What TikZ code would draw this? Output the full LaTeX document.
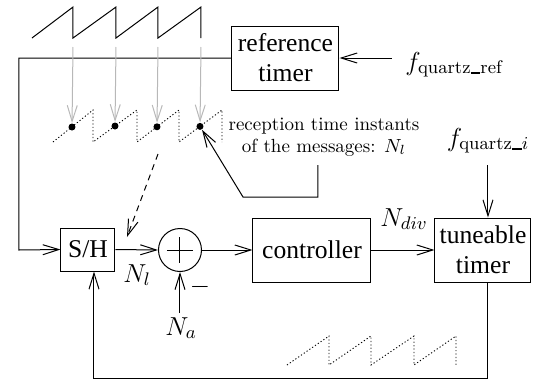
\RequirePackage{fix-cm}
\documentclass[tikz,border=0pt]{standalone}
\usepackage{fontspec}
\newfontfamily\tms{Liberation Serif}
\usetikzlibrary{arrows.meta,calc}
\newcommand{\usc}{\rule[-0.02em]{0.38em}{0.09em}}
\begin{document}
\begin{tikzpicture}[x=0.5pt,y=-0.5pt,
  line width=0.5pt,
  arr/.style={-{Straight Barb[length=8pt,width=5pt]}},
  garr/.style={arr, draw=black!28},
  box/.style={draw, inner sep=0pt, font=\tms\fontsize{12.8}{15}\selectfont, align=center},
  lab/.style={inner sep=0pt, font=\fontsize{13}{15}\selectfont},
  dotnode/.style={circle, fill, inner sep=0pt, minimum size=3.5pt},
  dotline/.style={line width=0.45pt, dash pattern=on 0.6pt off 1.1pt},
  ]
\useasboundingbox (0,0) rectangle (543,381);

% boxes
\node[box, minimum width=53.5pt, minimum height=32pt] (ref) at (285.5,58) {reference\\timer};
\node[box, minimum width=27pt, minimum height=21.5pt] (sh) at (88,249.5) {S/H};
\node[draw, circle, minimum size=21.5pt, inner sep=0pt] (sum) at (180,250) {};
\draw (sum.center) ++(-13,0) -- ++(26,0);
\draw (sum.center) ++(0,-13) -- ++(0,26);
\node[box, minimum width=59pt, minimum height=32pt] (ctrl) at (312,250) {controller};
\node[box, minimum width=48pt, minimum height=32pt] (tt) at (483,250) {tuneable\\timer};

% labels
\node[lab, anchor=base west] (fref) at (405,70) {$f_{\mathrm{quartz\usc ref}}$};
\node[lab, anchor=base] (fqi) at (488,146) {$f_{\mathrm{quartz\usc}i}$};
\node[lab, anchor=base west] (nl) at (123,282) {$N_l$};
\node[lab, anchor=base west] (na) at (165,335) {$N_a$};
\node[lab] (minus) at (200,287) {$-$};
\node[lab, anchor=base west] (ndiv) at (380,226) {$N_{div}$};
\node[font=\fontsize{9.5}{11}\selectfont, align=center, inner sep=0pt] (rt) at (324,137) {reception time instants\\of the messages: $N_l$};

% connectors
\coordinate (frefin) at (392,58);
\draw[arr] (frefin) -- (ref.east);
\coordinate (lc) at (19,250);
\draw[arr] (ref.west) -| (lc) -- (sh.west);
\draw[arr] (sh.east) -- (sum.west);
\draw[arr] (sum.south |- 0,313) -- (sum.south);
\draw[arr] (sum.east) -- (ctrl.west);
\draw[arr] (ctrl.east) -- (tt.west);
\draw[arr] (fqi.south |- 0,165) -- (fqi.south |- tt.north);
\coordinate (bc) at (94,378);
\draw[arr] (tt.south -| fqi.south) |- (bc) -- (bc |- sh.south);

% top sawtooth
\draw (32,38) -- (73,7) -- (73,38) -- (116,7) -- (116,38) -- (158,7) -- (158,38) -- (201,7) -- (201,38);

% middle dotted sawtooth
\draw[dotline] (53,142) -- (93,110) -- (93,142) -- (137,110) -- (137,142) -- (179,110) -- (179,142) -- (222,110) -- (222,142);
\node[dotnode] (d1) at (72,127) {};
\node[dotnode] (d2) at (115,126) {};
\node[dotnode] (d3) at (157,126.8) {};
\node[dotnode] (d4) at (200,126.4) {};
\draw[garr] (73,47) -- (d1);
\draw[garr] (116,47) -- (d2);
\draw[garr] (158,47) -- (d3);
\draw[garr] (201,47) -- (d4);

% dashed arrow to S/H
\coordinate (ds) at (158,154);
\coordinate (de) at (127,237);
\draw[arr, dash pattern=on 3pt off 2.5pt] (ds) -- (de);

% arrow to reception instant
\coordinate (m1) at (318,165);
\coordinate (m2) at (243,197);
\draw[arr] (m1) |- (m2) -- (d4);

% bottom dotted sawtooth
\draw[dotline] (287,365) -- (329,336) -- (329,365) -- (371,336) -- (371,365) -- (414,336) -- (414,365) -- (456,336) -- (456,365);
\end{tikzpicture}
\end{document}
